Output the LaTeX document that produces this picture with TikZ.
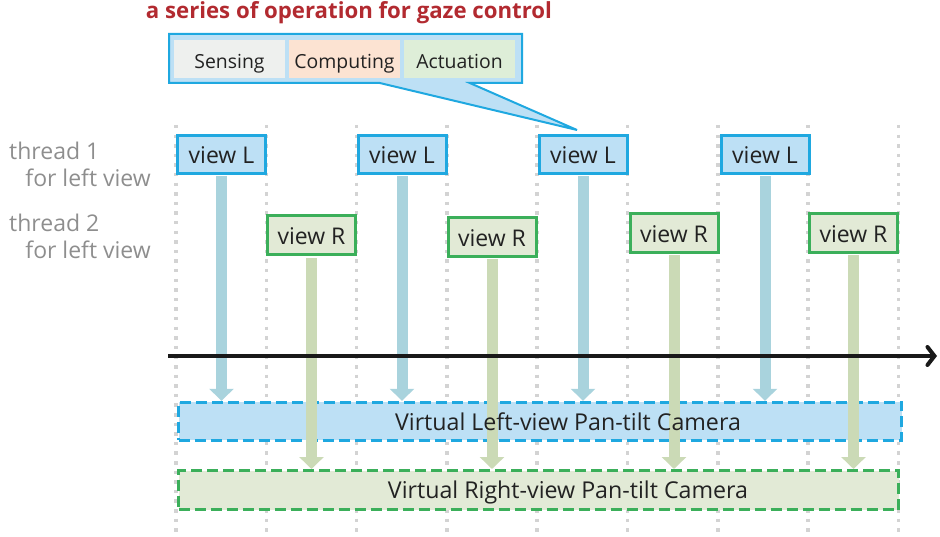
\documentclass[tikz,border=0pt]{standalone}
\usepackage{fontspec}
\setmainfont{Open Sans}
\usetikzlibrary{arrows.meta,shapes.callouts}

\definecolor{lblue}{HTML}{BDE0F5}
\definecolor{dblue}{HTML}{1FA8E0}
\definecolor{lgreen}{HTML}{E2EAD6}
\definecolor{dgreen}{HTML}{3BAF5A}
\definecolor{barblue}{HTML}{A9D3DD}
\definecolor{bargreen}{HTML}{CBDAB6}
\definecolor{gridgray}{HTML}{D3D3D3}
\definecolor{labelgray}{HTML}{8E8E8E}
\definecolor{titlered}{HTML}{B22A30}
\definecolor{txt}{HTML}{222222}
\definecolor{senscol}{HTML}{EEF0EE}
\definecolor{compcol}{HTML}{FCE3D2}
\definecolor{actcol}{HTML}{DEEED8}

\tikzset{
  gridline/.style={draw=gridgray, line width=3.5pt, dash pattern=on 3.5pt off 6.1pt},
  viewL/.style={draw=dblue, fill=lblue, line width=3pt, minimum width=88pt, minimum height=38pt,
                inner sep=0pt, font=\fontsize{23}{26}\selectfont, text=txt,
                text height=19pt, text depth=0pt},
  viewR/.style={draw=dgreen, fill=lgreen, line width=3pt, minimum width=88pt, minimum height=39pt,
                inner sep=0pt, font=\fontsize{23}{26}\selectfont, text=txt,
                text height=19pt, text depth=0pt},
  campane/.style={line width=3pt, dash pattern=on 11pt off 5pt, inner sep=0pt},
  camtext/.style={font=\fontsize{23.2}{26}\selectfont, text=txt, inner sep=0pt,
                  text height=17.4pt, text depth=0pt},
  flowL/.style={draw=barblue, line width=11pt, -{Triangle[width=24pt,length=12pt]}, shorten <=1.5pt},
  flowR/.style={draw=bargreen, line width=11pt, -{Triangle[width=24pt,length=12pt]}, shorten <=1.5pt},
  stage/.style={minimum width=111pt, minimum height=38pt, inner sep=0pt,
                font=\fontsize{19.4}{22}\selectfont, text=txt,
                text height=18.6pt, text depth=0pt},
  threadlbl/.style={font=\fontsize{23}{26}\selectfont, text=labelgray, inner sep=0pt},
}

\begin{document}
\begin{tikzpicture}[x=1pt,y=-1pt]
\useasboundingbox (0,0) rectangle (940,537);

% time slots
\foreach \i in {0,...,8}
  \draw[gridline] (176+90.3*\i,125) -- (176+90.3*\i,537);

% thread labels
\node[threadlbl, anchor=west] (th1) at (9,151) {thread 1};
\node[threadlbl, anchor=east] (th1b) at (151,178) {for left view};
\node[threadlbl, anchor=west] (th2) at (9,223) {thread 2};
\node[threadlbl, anchor=east] (th2b) at (151,250) {for left view};

% per-view tasks
\node[viewL] (vl1) at (221.5,154.5) {view L};
\node[viewL] (vl2) at (402,154.5) {view L};
\node[viewL] (vl3) at (583,154.5) {view L};
\node[viewL] (vl4) at (765,154.5) {view L};

\node[viewR] (vr1) at (311.5,235.5) {view R};
\node[viewR] (vr2) at (492,237) {view R};
\node[viewR] (vr3) at (674,233) {view R};
\node[viewR] (vr4) at (853.5,233) {view R};

% virtual cameras
\node[campane, draw=dblue, fill=lblue, minimum width=723pt, minimum height=38pt]
  (lcam) at (540,421.3) {};
\node[campane, draw=dgreen, fill=lgreen, minimum width=720pt, minimum height=39pt]
  (rcam) at (538.5,490) {};

% control outputs
\foreach \v in {vl1,vl2,vl3,vl4}
  \draw[flowL] (\v.south) -- (\v.south |- lcam.north);
\foreach \v in {vr1,vr2,vr3,vr4}
  \draw[flowR] (\v.south) -- (\v.south |- rcam.north);

% camera captions
\node[camtext] (lcamtxt) at ([xshift=28pt]lcam.center) {Virtual Left-view Pan-tilt Camera};
\node[camtext] (rcamtxt) at ([xshift=29.5pt]rcam.center) {Virtual Right-view Pan-tilt Camera};

% time axis
\coordinate (t0) at (168,356);
\coordinate (t1) at (937,356);
\draw[line width=4pt, color=black!90, -{Straight Barb[length=7pt,width=18pt,line cap=round]}] (t0) -- (t1);

% operation breakdown
\node[rectangle callout, draw=dblue, fill=lblue, line width=2pt,
      minimum width=353pt, minimum height=49pt, inner sep=0pt,
      callout pointer width=90pt,
      callout absolute pointer={([xshift=-6pt,yshift=4pt]vl3.north)}]
  (ops) at (345.5,58.5) {};
\node[stage, fill=senscol] (sens) at (229.5,59) {Sensing};
\node[stage, fill=compcol] (comp) at (344.5,59) {Computing};
\node[stage, fill=actcol] (act) at (459.5,59) {Actuation};

\node[font=\bfseries\fontsize{22.2}{25}\selectfont, text=titlered, inner sep=0pt] (title) at (349,13)
  {a series of operation for gaze control};
\end{tikzpicture}
\end{document}
